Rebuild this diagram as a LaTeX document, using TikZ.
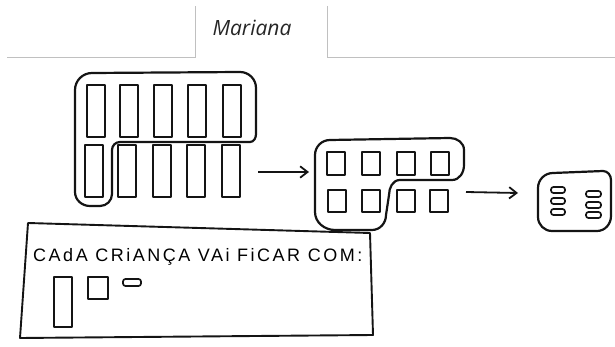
\documentclass[tikz,border=0pt]{standalone}
\usepackage{fontspec}
\usetikzlibrary{arrows.meta}
\newfontfamily\tabfont{Open Sans}
\newfontfamily\handfont[LetterSpace=14]{Liberation Sans}
\definecolor{tabline}{RGB}{192,192,192}
\definecolor{pencil}{RGB}{20,20,20}

\begin{document}
\begin{tikzpicture}[
    x=1pt, y=-1pt,
    tabrule/.style={draw=tabline, line width=1pt},
    outline/.style={draw=pencil, line width=2.2pt, line join=round, line cap=round},
    piece/.style={draw=pencil, line width=1.8pt, line join=round},
    chip/.style={piece, rounded corners=2.5pt, line width=1.7pt},
    arr/.style={-{Straight Barb[length=2.6mm, width=4mm, line width=1.8pt]}, draw=pencil, line width=1.8pt}
]
\useasboundingbox (0,0) rectangle (615,347);

% tab header
\draw[tabrule] (7,58) -- (195,58) -- (195,6);
\draw[tabrule] (327,6) -- (327,58) -- (615,58);
\node[font=\tabfont\itshape\fontsize{21}{24}\selectfont, text=black!85, anchor=base] (name) at (252,36) {Mariana};

% first group: 10 bars
\draw[outline] (120,142) -- (250,142) to[out=0,in=-90] (256,134) -- (256,88)
    to[out=90,in=0] (240,72) -- (92,73) to[out=180,in=90] (75,90) -- (75,192)
    to[out=-90,in=180] (90,206) -- (100,206) to[out=0,in=-90] (112,194)
    -- (112,150) to[out=90,in=180] (120,142);
\foreach \x in {87,120,154,188,223}
    \draw[piece] (\x,85) rectangle ++(18,52);
\foreach \x in {85,118,153,187,222}
    \draw[piece] (\x,145) rectangle ++(18,52);

% second group: 8 squares
\draw[outline] (400,180) -- (452,180) to[out=0,in=-90] (464,165) -- (464,150)
    to[out=90,in=0] (450,138) -- (330,140) to[out=180,in=90] (315,155) -- (315,212)
    to[out=-90,in=180] (335,230) -- (372,230) to[out=0,in=-90] (386,215)
    -- (389,195) to[out=90,in=180] (400,180);
\foreach \x in {327,362,397,431}
    \draw[piece] (\x,152) rectangle ++(18,23);
\foreach \x in {328,362,397,430}
    \draw[piece] (\x,190) rectangle ++(18,22);

% third group: 6 chips
\draw[outline] (553,173) -- (603,171) to[out=0,in=90] (611,180) -- (611,216)
    to[out=-90,in=0] (597,231) -- (552,231) to[out=180,in=-90] (538,217)
    -- (538,188) to[out=90,in=180] (553,173);
\foreach \y in {187,198,209}
    \draw[chip] (551,\y) rectangle ++(14,6);
\foreach \y in {191,202,212}
    \draw[chip] (586,\y) rectangle ++(15,6);

% arrows
\coordinate (g1out) at (258,172);
\coordinate (g2in) at (309,172);
\coordinate (g2out) at (466,192);
\coordinate (g3in) at (518,193);
\draw[arr] (g1out) -- (g2in);
\draw[arr] (g2out) -- (g3in);

% answer box
\draw[outline, line width=1.9pt] (28,223) -- (370,233) -- (373,335) -- (20,338) -- cycle;
\node[font=\handfont\fontsize{18}{20}\selectfont, anchor=base west, inner sep=0pt] (note) at (33,261) {CAdA CRiANÇA VAi FiCAR COM:};
\draw[piece] (54,277) rectangle (72,327);
\draw[piece] (88,277) rectangle (108,299);
\draw[chip] (123,279) rectangle (141,286);
\end{tikzpicture}
\end{document}
